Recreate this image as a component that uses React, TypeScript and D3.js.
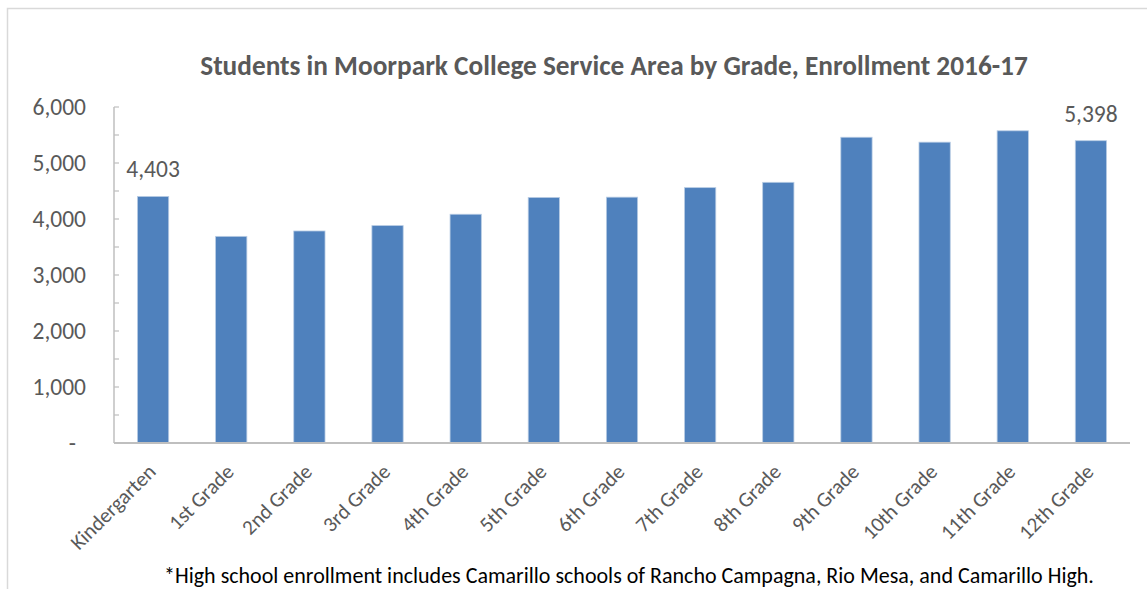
import * as d3 from 'd3'
import React, { useEffect, useRef } from 'react'

const grades = [
    'Kindergarten',
    '1st Grade',
    '2nd Grade',
    '3rd Grade',
    '4th Grade',
    '5th Grade',
    '6th Grade',
    '7th Grade',
    '8th Grade',
    '9th Grade',
    '10th Grade',
    '11th Grade',
    '12th Grade',
]
const enrollment = [4403, 3690, 3786, 3882, 4085, 4385, 4390, 4560, 4655, 5460, 5372, 5575, 5398]
const labelled = ['Kindergarten', '12th Grade']
const yTicks = [0, 1000, 2000, 3000, 4000, 5000, 6000]
const minorTicks = [500, 1500, 2500, 3500, 4500, 5500]

const title = 'Students in Moorpark College Service Area by Grade, Enrollment 2016-17'
const footnote =
    '*High school enrollment includes Camarillo schools of Rancho Campagna, Rio Mesa, and Camarillo High.'

const FONT = "Calibri, Carlito, 'Open Sans', sans-serif"
const TEXT = '#595959'
const BAR = '#4f81bd'
const AXIS = '#bfbfbf'

const App = (): JSX.Element => {
    const ref = useRef<SVGSVGElement>(null)
    const width = 1147
    const height = 589
    const plot = { left: 114, right: 1130, top: 107, bottom: 443 }

    useEffect(() => {
        const svg = d3.select(ref.current)
        svg.selectAll('*').remove()

        // outer frame
        svg.append('rect')
            .attr('x', 7.5)
            .attr('y', 8.5)
            .attr('width', width + 10)
            .attr('height', height + 10)
            .attr('fill', '#fff')
            .attr('stroke', '#d9d9d9')
            .attr('stroke-width', 1.5)

        const x = d3
            .scaleBand()
            .domain(grades)
            .range([plot.left, plot.right])
            .paddingInner(0.6)
            .paddingOuter(0.3)

        const y = d3.scaleLinear().domain([0, 6000]).range([plot.bottom, plot.top])

        // title
        svg.append('text')
            .attr('x', 614)
            .attr('y', 75)
            .attr('text-anchor', 'middle')
            .attr('font-family', FONT)
            .attr('font-weight', 'bold')
            .attr('font-size', 27.3)
            .attr('fill', TEXT)
            .text(title)

        // y axis: line, minor ticks, labels
        const yAxis = svg.append('g')
        yAxis.append('line')
            .attr('x1', plot.left)
            .attr('x2', plot.left)
            .attr('y1', y(6000))
            .attr('y2', y(0))
            .attr('stroke', AXIS)
            .attr('stroke-width', 1.5)
        yAxis.selectAll('.tick')
            .data([...yTicks, ...minorTicks])
            .enter()
            .append('line')
            .attr('x1', plot.left)
            .attr('x2', plot.left + 5)
            .attr('y1', (d) => y(d))
            .attr('y2', (d) => y(d))
            .attr('stroke', AXIS)
            .attr('stroke-width', 1.2)
        yAxis.selectAll('.lbl')
            .data(yTicks)
            .enter()
            .append('text')
            .attr('x', (d) => (d === 0 ? 76 : 86))
            .attr('y', (d) => y(d))
            .attr('dy', '0.32em')
            .attr('text-anchor', 'end')
            .attr('font-family', FONT)
            .attr('font-size', 23.5)
            .attr('fill', TEXT)
            .text((d) => (d === 0 ? '-' : d3.format(',')(d)))

        // bars
        svg.append('g')
            .selectAll('rect')
            .data(grades)
            .enter()
            .append('rect')
            .attr('x', (d) => x(d))
            .attr('y', (d, i) => y(enrollment[i]))
            .attr('width', x.bandwidth())
            .attr('height', (d, i) => y(0) - y(enrollment[i]))
            .attr('fill', BAR)
            .attr('stroke', '#b8cce4')
            .attr('stroke-width', 0.8)

        // x axis line
        svg.append('line')
            .attr('x1', plot.left)
            .attr('x2', plot.right)
            .attr('y1', y(0))
            .attr('y2', y(0))
            .attr('stroke', AXIS)
            .attr('stroke-width', 2)

        // data labels
        svg.append('g')
            .selectAll('text')
            .data(grades.filter((g) => labelled.includes(g)))
            .enter()
            .append('text')
            .attr('x', (d) => x(d) + x.bandwidth() / 2)
            .attr('y', (d) => y(enrollment[grades.indexOf(d)]) - 19)
            .attr('text-anchor', 'middle')
            .attr('font-family', FONT)
            .attr('font-size', 23.5)
            .attr('fill', TEXT)
            .text((d) => d3.format(',')(enrollment[grades.indexOf(d)]))

        // category labels
        svg.append('g')
            .selectAll('text')
            .data(grades)
            .enter()
            .append('text')
            .attr(
                'transform',
                (d) => `translate(${x(d) + x.bandwidth() / 2 + 4},${y(0) + 30}) rotate(-45)`
            )
            .attr('text-anchor', 'end')
            .attr('font-family', FONT)
            .attr('font-size', 21)
            .attr('fill', TEXT)
            .text((d) => d)

        // footnote
        svg.append('text')
            .attr('x', 629)
            .attr('y', 583)
            .attr('text-anchor', 'middle')
            .attr('font-family', FONT)
            .attr('font-size', 22)
            .attr('fill', '#000')
            .text(footnote)
    }, [])

    return (
        <svg
            ref={ref}
            width={width}
            height={height}
            style={{ position: 'absolute', left: 0, top: 0, background: '#fff' }}
        />
    )
}

export default App
